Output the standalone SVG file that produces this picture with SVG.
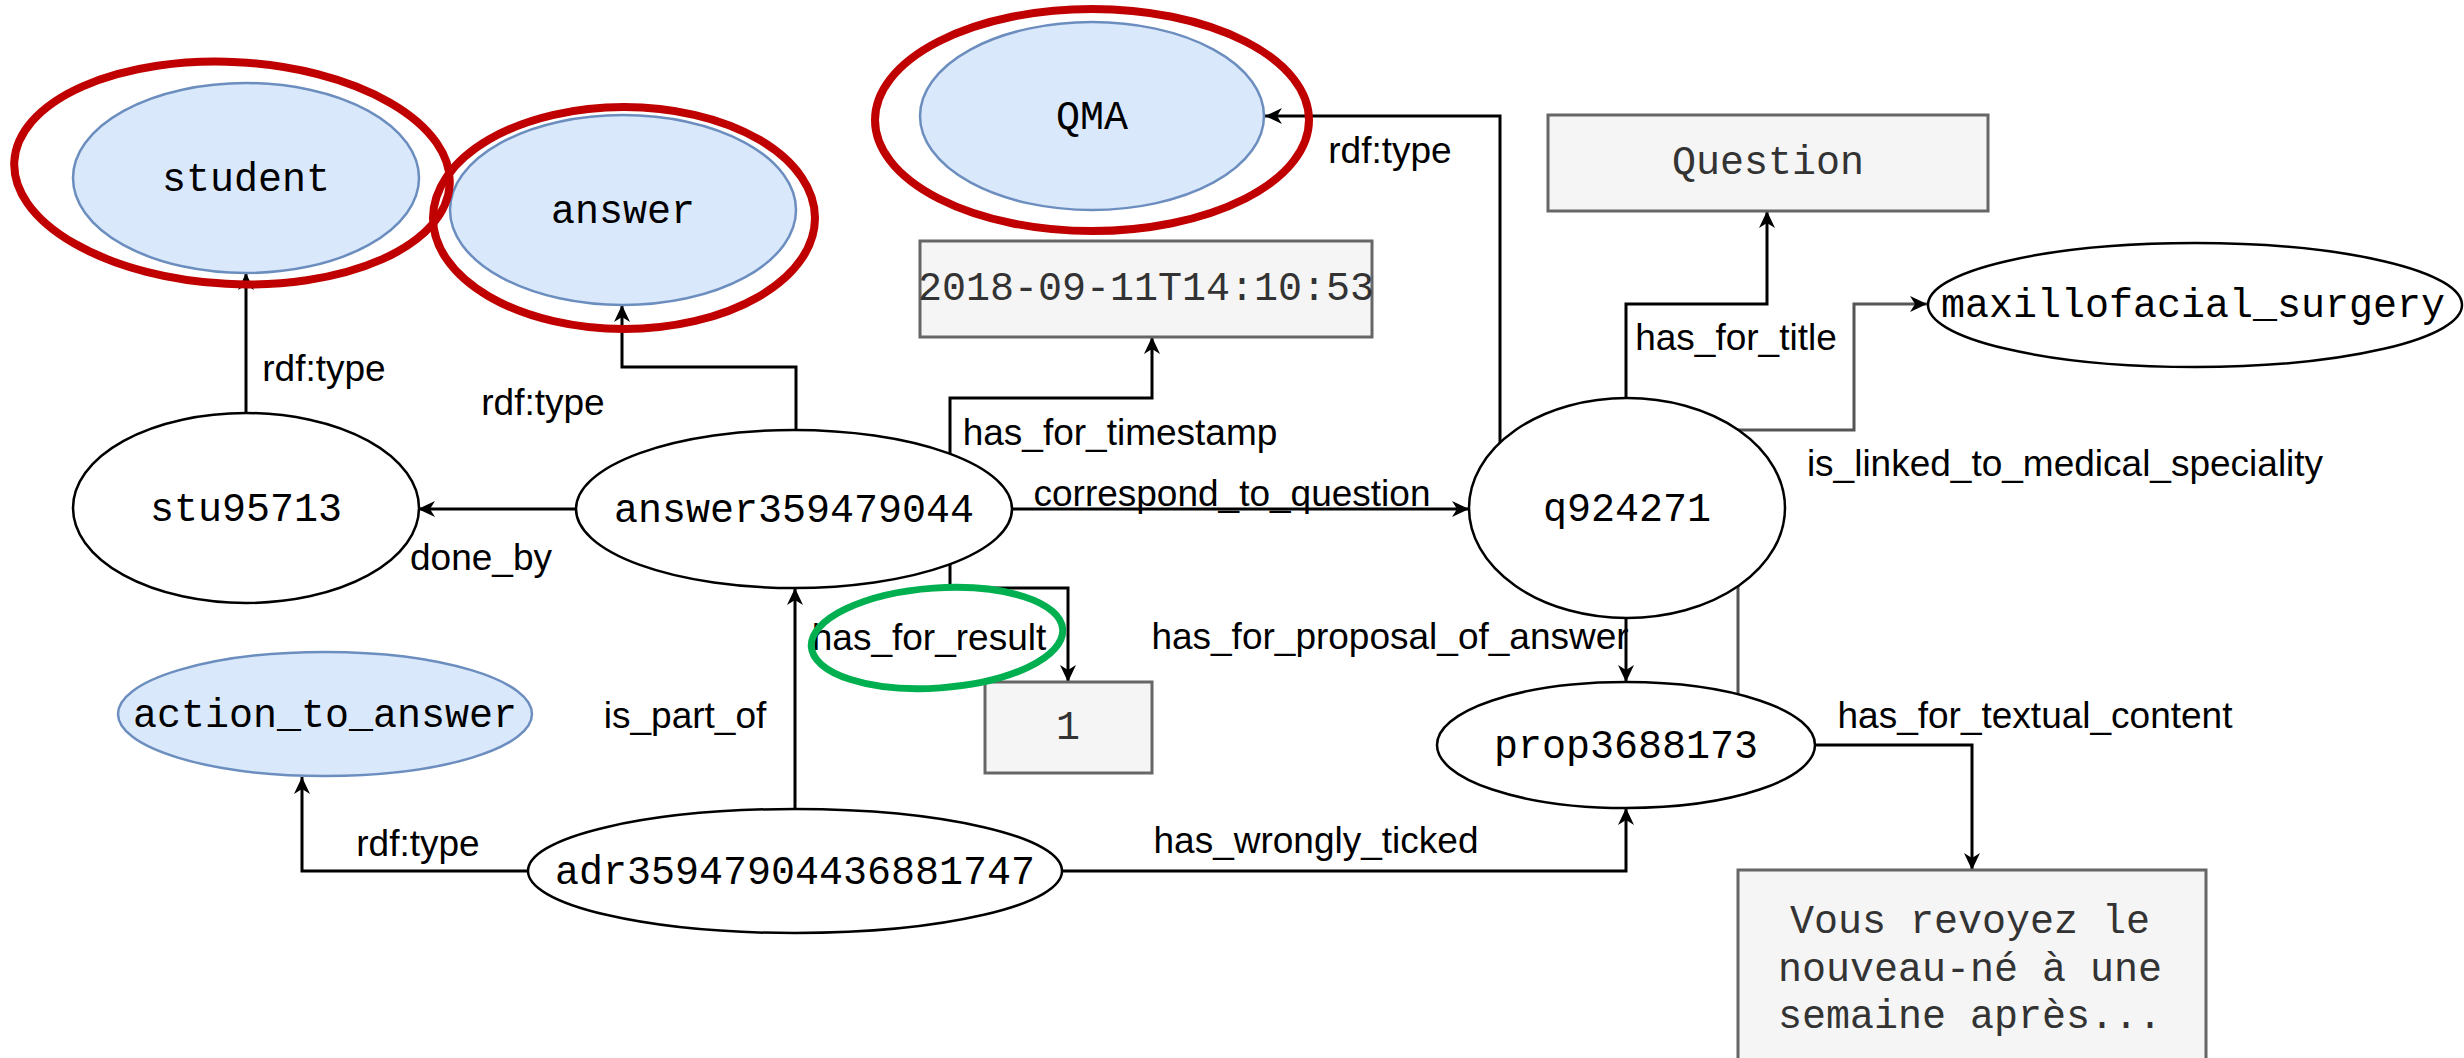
<svg xmlns="http://www.w3.org/2000/svg" width="2464" height="1058" viewBox="0 0 2464 1058">
<defs>
<marker id="arr" markerUnits="userSpaceOnUse" markerWidth="18" markerHeight="18" viewBox="0 0 18 18" refX="17" refY="9" orient="auto">
<path d="M0,1 L17,9 L0,17 L5,9 Z" fill="#000"/>
</marker>
<style>
.e{fill:none;stroke:#000;stroke-width:3}
.g{stroke:#555}
.n{fill:#fff;stroke:#000;stroke-width:2.5}
.b{fill:#dae8fc;stroke:#6c8ebf;stroke-width:2.5}
.r{fill:#f5f5f5;stroke:#666;stroke-width:3}
.m{font-family:"Liberation Mono","DejaVu Sans Mono",monospace;font-size:40px;fill:#000;text-anchor:middle;dominant-baseline:central}
.mg{fill:#333}
.l{font-family:"Liberation Sans",Arial,sans-serif;font-size:37px;fill:#000;text-anchor:middle;dominant-baseline:central}
.red{fill:none;stroke:#c00000;stroke-width:8}
.grn{fill:none;stroke:#00b050;stroke-width:7}
</style>
</defs>
<rect width="2464" height="1058" fill="#fff"/>
<g id="connectors">
<path class="e" d="M246,413 V273" marker-end="url(#arr)"/>
<path class="e" d="M796,430 V367 H622 V305" marker-end="url(#arr)"/>
<path class="e" d="M576,509 H418" marker-end="url(#arr)"/>
<path class="e" d="M950,454 V398 H1152 V337" marker-end="url(#arr)"/>
<path class="e" d="M1013,509 H1469" marker-end="url(#arr)"/>
<path class="e" d="M950,564 V588 H1068 V682" marker-end="url(#arr)"/>
<path class="e" d="M1500,443 V116 H1265" marker-end="url(#arr)"/>
<path class="e" d="M1626,398 V304 H1767 V211" marker-end="url(#arr)"/>
<path class="e g" d="M1738,694 V430 H1854 V304 H1927" marker-end="url(#arr)"/>
<path class="e" d="M1626,618 V682" marker-end="url(#arr)"/>
<path class="e" d="M1815,745 H1972 V870" marker-end="url(#arr)"/>
<path class="e" d="M1061,871 H1626 V808" marker-end="url(#arr)"/>
<path class="e" d="M795,809 V588" marker-end="url(#arr)"/>
<path class="e" d="M528,871 H302 V777" marker-end="url(#arr)"/>
<text class="l" x="324" y="368">rdf:type</text>
<text class="l" x="543" y="402">rdf:type</text>
<text class="l" x="481" y="557">done_by</text>
<text class="l" x="1120" y="432">has_for_timestamp</text>
<text class="l" x="1232" y="493">correspond_to_question</text>
<text class="l" x="929" y="637">has_for_result</text>
<text class="l" x="1390" y="636">has_for_proposal_of_answer</text>
<text class="l" x="685" y="715">is_part_of</text>
<text class="l" x="418" y="843">rdf:type</text>
<text class="l" x="1316" y="840">has_wrongly_ticked</text>
<text class="l" x="2035" y="715">has_for_textual_content</text>
<text class="l" x="1390" y="150">rdf:type</text>
<text class="l" x="1736" y="337">has_for_title</text>
<text class="l" x="2065" y="463">is_linked_to_medical_speciality</text>
</g>
<g id="student"><ellipse class="b" cx="246" cy="178" rx="173" ry="95"/><text class="m" x="246" y="180">student</text></g>
<g id="answer"><ellipse class="b" cx="623" cy="210" rx="173" ry="95"/><text class="m" x="623" y="212">answer</text></g>
<g id="QMA"><ellipse class="b" cx="1092" cy="116" rx="172" ry="94"/><text class="m" x="1092" y="118">QMA</text></g>
<g id="timestamp"><rect class="r" x="920" y="241" width="452" height="96"/><text class="m mg" x="1146" y="289">2018-09-11T14:10:53</text></g>
<g id="Question"><rect class="r" x="1548" y="115" width="440" height="96"/><text class="m mg" x="1768" y="163">Question</text></g>
<g id="maxillofacial_surgery"><ellipse class="n" cx="2195" cy="305" rx="267" ry="62"/><text class="m" x="2193" y="306">maxillofacial_surgery</text></g>
<g id="stu95713"><ellipse class="n" cx="246" cy="508" rx="173" ry="95"/><text class="m" x="246" y="510">stu95713</text></g>
<g id="answer359479044"><ellipse class="n" cx="794" cy="509" rx="218" ry="79"/><text class="m" x="794" y="511">answer359479044</text></g>
<g id="q924271"><ellipse class="n" cx="1627" cy="508" rx="158" ry="110"/><text class="m" x="1627" y="510">q924271</text></g>
<g id="result1"><rect class="r" x="985" y="682" width="167" height="91"/><text class="m mg" x="1068" y="728">1</text></g>
<g id="action_to_answer"><ellipse class="b" cx="325" cy="714" rx="207" ry="62"/><text class="m" x="325" y="716">action_to_answer</text></g>
<g id="adr35947904436881747"><ellipse class="n" cx="795" cy="871" rx="267" ry="62"/><text class="m" x="795" y="873">adr35947904436881747</text></g>
<g id="prop3688173"><ellipse class="n" cx="1626" cy="745" rx="189" ry="63"/><text class="m" x="1626" y="747">prop3688173</text></g>
<g id="textual_content"><rect class="r" x="1738" y="870" width="468" height="200"/>
<text class="m mg" x="1970" y="922">Vous revoyez le</text>
<text class="m mg" x="1970" y="970">nouveau-né à une</text>
<text class="m mg" x="1970" y="1017">semaine après...</text></g>
<g id="annotations">
<ellipse class="red" cx="232" cy="173" rx="218" ry="111" transform="rotate(3 232 173)"/>
<ellipse class="red" cx="624" cy="218" rx="191" ry="111"/>
<ellipse class="red" cx="1092" cy="120" rx="217" ry="111"/>
<ellipse class="grn" cx="937" cy="638" rx="126" ry="50" transform="rotate(-4 937 638)"/>
</g>
</svg>
